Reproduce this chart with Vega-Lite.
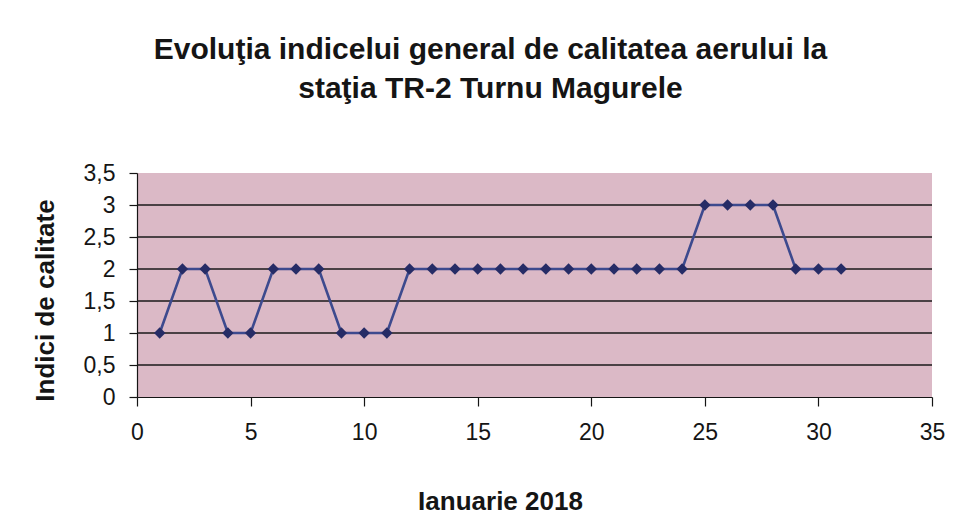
{
  "$schema": "https://vega.github.io/schema/vega-lite/v6.json",
  "width": 795,
  "height": 224,
  "autosize": {"type": "none"},
  "padding": {"left": 137, "top": 173, "right": 24, "bottom": 124},
  "background": "white",
  "title": {
    "text": ["Evoluţia indicelui general de calitatea aerului la", "staţia TR-2 Turnu Magurele"],
    "font": "Liberation Sans",
    "fontSize": 30,
    "fontWeight": "bold",
    "color": "#151515",
    "lineHeight": 39,
    "anchor": "middle",
    "dx": -44,
    "offset": 58
  },
  "config": {
    "view": {"fill": "#dbb9c6", "stroke": null},
    "axis": {"labelFont": "Liberation Sans", "titleFont": "Liberation Sans", "labelColor": "#151515", "titleColor": "#151515", "domainColor": "#151515", "tickColor": "#151515"}
  },
  "data": {
    "values": [
      {"zi": 1, "indice": 1}, {"zi": 2, "indice": 2}, {"zi": 3, "indice": 2}, {"zi": 4, "indice": 1},
      {"zi": 5, "indice": 1}, {"zi": 6, "indice": 2}, {"zi": 7, "indice": 2}, {"zi": 8, "indice": 2},
      {"zi": 9, "indice": 1}, {"zi": 10, "indice": 1}, {"zi": 11, "indice": 1}, {"zi": 12, "indice": 2},
      {"zi": 13, "indice": 2}, {"zi": 14, "indice": 2}, {"zi": 15, "indice": 2}, {"zi": 16, "indice": 2},
      {"zi": 17, "indice": 2}, {"zi": 18, "indice": 2}, {"zi": 19, "indice": 2}, {"zi": 20, "indice": 2},
      {"zi": 21, "indice": 2}, {"zi": 22, "indice": 2}, {"zi": 23, "indice": 2}, {"zi": 24, "indice": 2},
      {"zi": 25, "indice": 3}, {"zi": 26, "indice": 3}, {"zi": 27, "indice": 3}, {"zi": 28, "indice": 3},
      {"zi": 29, "indice": 2}, {"zi": 30, "indice": 2}, {"zi": 31, "indice": 2}
    ]
  },
  "encoding": {
    "x": {
      "field": "zi", "type": "quantitative",
      "scale": {"domain": [0, 35], "nice": false, "zero": false},
      "axis": {
        "values": [0, 5, 10, 15, 20, 25, 30, 35],
        "grid": false,
        "title": "Ianuarie 2018",
        "titleFontSize": 26,
        "titleFontWeight": "bold",
        "titleX": 363,
        "titleY": 104,
        "titleBaseline": "middle",
        "labelFontSize": 23,
        "labelFontWeight": "normal",
        "labelPadding": 15,
        "tickSize": 9,
        "tickWidth": 1.2,
        "domainWidth": 1.2,
        "labelFlush": false
      }
    },
    "y": {
      "field": "indice", "type": "quantitative",
      "scale": {"domain": [0, 3.5], "nice": false},
      "axis": {
        "values": [0, 0.5, 1, 1.5, 2, 2.5, 3, 3.5],
        "labelExpr": "replace(format(datum.value, '~g'), '.', ',')",
        "grid": false,
        "title": "Indici de calitate",
        "titleFontSize": 26,
        "titleFontWeight": "bold",
        "titleX": -92,
        "titleY": 127,
        "titleAngle": 270,
        "titleAlign": "center",
        "titleBaseline": "middle",
        "labelFontSize": 23,
        "labelPadding": 14,
        "tickSize": 8,
        "tickWidth": 1.2,
        "domainWidth": 1.2
      }
    }
  },
  "layer": [
    {
      "data": {"values": [{"v": 0.5}, {"v": 1}, {"v": 1.5}, {"v": 2}, {"v": 2.5}, {"v": 3}]},
      "mark": {"type": "rule", "color": "#1a1a1a", "strokeWidth": 1.4},
      "encoding": {"y": {"field": "v", "type": "quantitative"}, "x": null}
    },
    {
      "mark": {"type": "line", "color": "#3d4a8e", "strokeWidth": 2.6}
    },
    {
      "mark": {"type": "point", "shape": "diamond", "filled": true, "color": "#262c66", "size": 130, "opacity": 1}
    }
  ]
}
